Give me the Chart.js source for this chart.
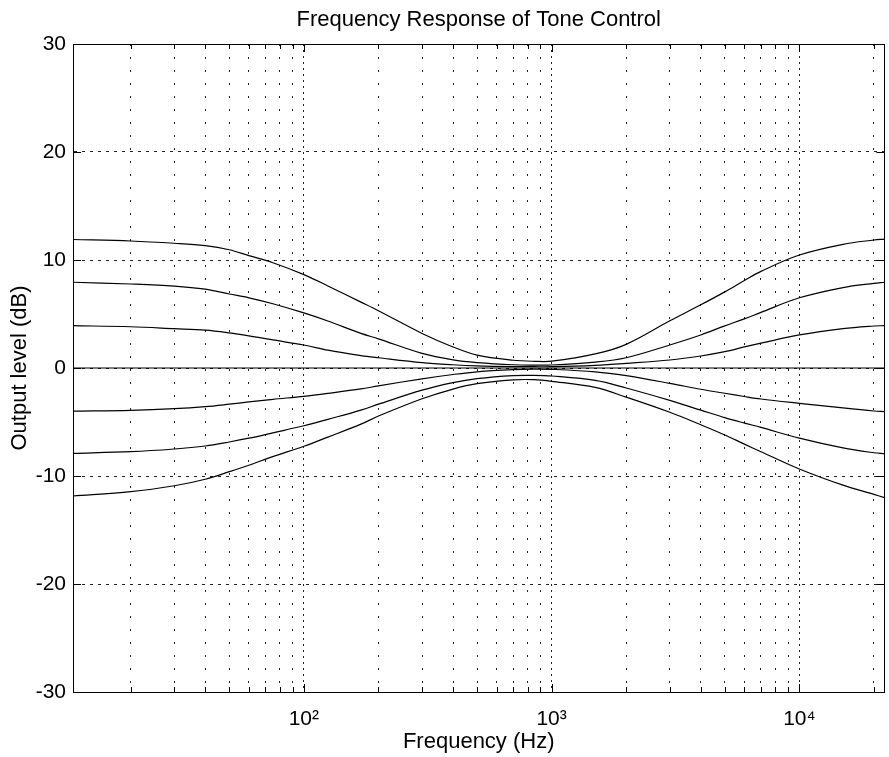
<!DOCTYPE html>
<html>
<head>
<meta charset="utf-8">
<title>Frequency Response of Tone Control</title>
<script src="https://cdn.jsdelivr.net/npm/chart.js@4.4.1/dist/chart.umd.min.js"></script>
<style>
  html, body { margin: 0; padding: 0; background: #fff; }
</style>
</head>
<body>
<canvas id="toneChart" width="889" height="757"></canvas>
<script>
const freqHz = [11.7, 20, 30, 40, 50, 60, 75, 100, 125, 170, 200, 300, 400, 500,
  700, 850, 1000, 1500, 2000, 3000, 4000, 5000, 6000, 7000, 10000, 15000, 20000, 22050];

// output level (dB) for each bass/treble setting
const plus12 = [11.9, 11.76, 11.55, 11.33, 10.95, 10.4, 9.75, 8.65, 7.6, 6.1, 5.3, 3.2, 1.95, 1.2,
  0.72, 0.62, 0.63, 1.3, 2.19, 4.37, 5.85, 7.05, 8.1, 8.95, 10.46, 11.45, 11.85, 11.94];
const plus8 = [7.94, 7.78, 7.59, 7.3, 6.85, 6.5, 5.95, 5.1, 4.35, 3.2, 2.7, 1.35, 0.75, 0.5,
  0.3, 0.27, 0.28, 0.55, 0.95, 2.13, 3.06, 3.9, 4.55, 5.15, 6.5, 7.45, 7.84, 7.94];
const plus4 = [3.92, 3.82, 3.64, 3.5, 3.25, 2.98, 2.6, 2.13, 1.65, 1.15, 0.95, 0.5, 0.3, 0.2,
  0.13, 0.12, 0.12, 0.25, 0.43, 0.74, 1.11, 1.51, 1.95, 2.3, 3.06, 3.65, 3.89, 3.92];
const flat0 = [0, 0, 0, 0, 0, 0, 0, 0, 0, 0, 0, 0, 0, 0,
  0, 0, 0, 0, 0, 0, 0, 0, 0, 0, 0, 0, 0, 0];
const minus4 = [-4.0, -3.92, -3.77, -3.58, -3.35, -3.14, -2.9, -2.62, -2.35, -1.94, -1.65, -1.0, -0.6, -0.35,
  -0.15, -0.1, -0.12, -0.35, -0.71, -1.42, -1.97, -2.34, -2.64, -2.87, -3.27, -3.7, -3.98, -4.04];
const minus8 = [-7.9, -7.75, -7.5, -7.22, -6.85, -6.5, -6.0, -5.35, -4.75, -3.9, -3.35, -2.05, -1.35, -0.98,
  -0.7, -0.68, -0.74, -1.15, -1.85, -3.0, -3.9, -4.6, -5.1, -5.5, -6.5, -7.4, -7.85, -7.94];
const minus12 = [-11.85, -11.45, -10.9, -10.3, -9.6, -9.0, -8.2, -7.25, -6.4, -5.2, -4.45, -2.85, -1.95, -1.45,
  -1.1, -1.08, -1.23, -1.8, -2.7, -4.1, -5.25, -6.2, -7.05, -7.75, -9.35, -10.85, -11.7, -12.0];

const curves = [plus12, plus8, plus4, flat0, minus4, minus8, minus12];

// axes
const xMin = 11.7, xMax = 22050;
const yTicks = [-30, -20, -10, 0, 10, 20, 30];
const xDecades = [100, 1000, 10000];
const xDecadeLabels = ['10\u00B2', '10\u00B3', '10\u2074'];

const FONT = '"Liberation Sans", Arial, Helvetica, sans-serif';

// grid positions: 1..9 x each decade
const xGrid = [];
for (const dec of [10, 100, 1000, 10000]) {
  for (let m = 1; m <= 9; m++) {
    const v = m * dec;
    if (v > xMin && v < xMax) xGrid.push(v);
  }
}

// frame on all four sides plus inward tick marks (box on)
const framePlugin = {
  id: 'frame',
  afterDatasetsDraw(chart) {
    const { ctx, chartArea: a, scales } = chart;
    ctx.save();
    ctx.strokeStyle = '#000';
    ctx.lineWidth = 1;
    ctx.beginPath();
    for (const v of xGrid) {
      const px = Math.round(scales.x.getPixelForValue(v)) + 0.5;
      const len = xDecades.includes(v) ? 8 : 5;
      ctx.moveTo(px, a.bottom); ctx.lineTo(px, a.bottom - len);
      ctx.moveTo(px, a.top); ctx.lineTo(px, a.top + len);
    }
    for (const v of yTicks) {
      const py = Math.round(scales.y.getPixelForValue(v)) + 0.5;
      ctx.moveTo(a.left, py); ctx.lineTo(a.left + 8, py);
      ctx.moveTo(a.right, py); ctx.lineTo(a.right - 8, py);
    }
    ctx.stroke();
    ctx.strokeRect(Math.round(a.left) + 0.5, Math.round(a.top) + 0.5,
      Math.round(a.right - a.left), Math.round(a.bottom - a.top));
    ctx.restore();
  }
};

new Chart(document.getElementById('toneChart'), {
  type: 'line',
  data: {
    datasets: curves.map((vals, i) => ({
      label: 'curve ' + (i + 1),
      data: freqHz.map((f, j) => ({ x: f, y: vals[j] })),
      borderColor: '#000',
      borderWidth: 1.2,
      pointRadius: 0,
      fill: false,
      tension: 0.35
    }))
  },
  options: {
    responsive: false,
    animation: false,
    devicePixelRatio: 1,
    layout: { padding: { right: 2, left: 0, top: 0, bottom: 0 } },
    plugins: {
      legend: { display: false },
      tooltip: { enabled: false },
      title: {
        display: true,
        fullSize: false,
        text: 'Frequency Response of Tone Control',
        color: '#000',
        font: { family: FONT, size: 22, weight: 'normal' },
        padding: { top: 7, bottom: 10.6 }
      }
    },
    scales: {
      x: {
        type: 'logarithmic',
        min: xMin,
        max: xMax,
        afterBuildTicks: (scale) => {
          scale.ticks = xGrid.map(v => ({ value: v, major: false }));
        },
        afterFit: (scale) => { scale.height = 65; },
        ticks: {
          autoSkip: false,
          maxRotation: 0,
          padding: 15,
          color: '#000',
          font: { family: FONT, size: 21 },
          callback: (value) => {
            const k = xDecades.indexOf(value);
            return k >= 0 ? xDecadeLabels[k] : '';
          }
        },
        grid: { drawTicks: false, color: '#222', lineWidth: 1 },
        border: {
          display: true, color: '#000', width: 1,
          dash: (c) => (c.tick && xDecades.includes(c.tick.value)) ? [2, 4] : [2, 11]
        },
        title: {
          display: true,
          text: 'Frequency (Hz)',
          color: '#000',
          font: { family: FONT, size: 22 },
          padding: { top: 0, bottom: 2 }
        }
      },
      y: {
        min: -30,
        max: 30,
        afterBuildTicks: (scale) => {
          scale.ticks = yTicks.map(v => ({ value: v }));
        },
        afterFit: (scale) => { scale.width = 73; },
        ticks: {
          padding: 7,
          color: '#000',
          font: { family: FONT, size: 21 }
        },
        grid: { drawTicks: false, color: '#222', lineWidth: 1 },
        border: { display: true, color: '#000', width: 1, dash: [3, 5] },
        title: {
          display: true,
          text: 'Output level (dB)',
          color: '#000',
          font: { family: FONT, size: 22 },
          padding: { top: 7, bottom: 0 }
        }
      }
    }
  },
  plugins: [framePlugin]
});
</script>
</body>
</html>
